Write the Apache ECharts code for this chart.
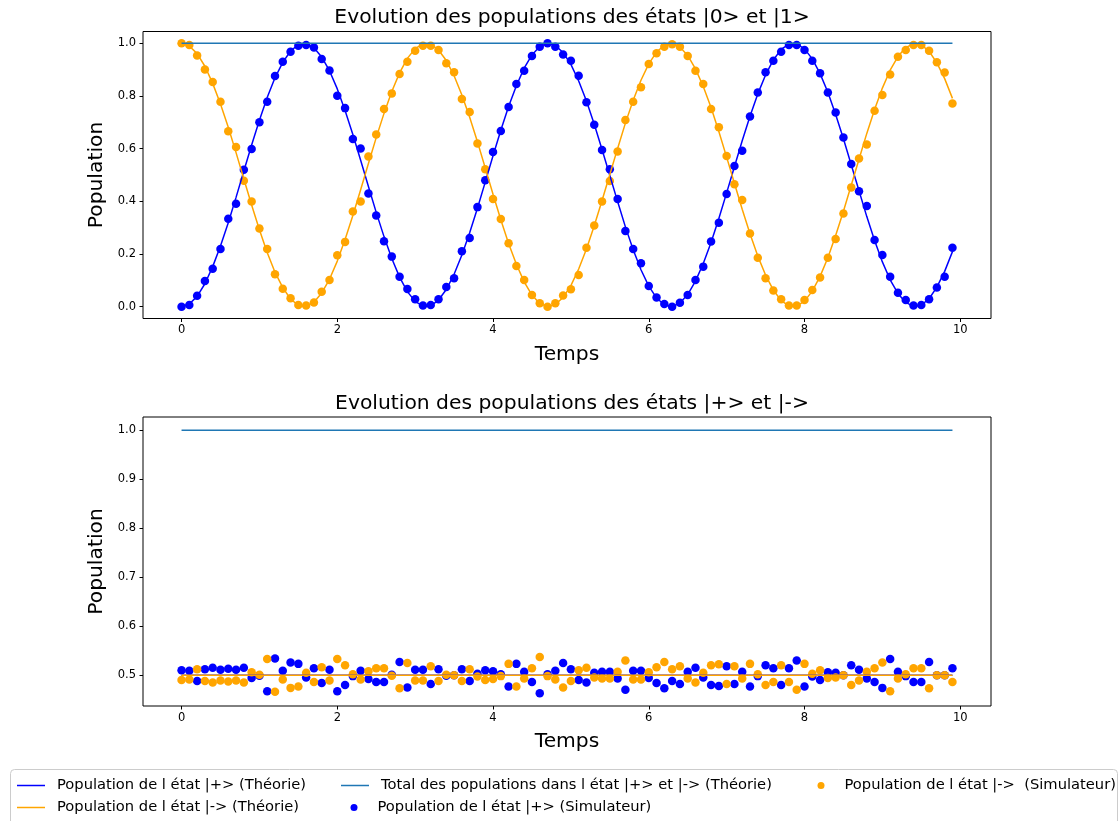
<!DOCTYPE html>
<html>
<head>
<meta charset="utf-8">
<title>Evolution des populations</title>
<script src="https://cdn.jsdelivr.net/npm/echarts@6.0.0/dist/echarts.min.js"></script>
<style>
  html, body { margin: 0; padding: 0; background: #fff; }
  #chart { width: 1120px; height: 821px; }
</style>
</head>
<body>
<div id="chart"></div>
<script>
// temps (t = 0 .. 9.9)
const times = [
  0.0, 0.1, 0.2, 0.3, 0.4, 0.5, 0.6, 0.7, 0.8, 0.9,
  1.0, 1.1, 1.2, 1.3, 1.4, 1.5, 1.6, 1.7, 1.8, 1.9,
  2.0, 2.1, 2.2, 2.3, 2.4, 2.5, 2.6, 2.7, 2.8, 2.9,
  3.0, 3.1, 3.2, 3.3, 3.4, 3.5, 3.6, 3.7, 3.8, 3.9,
  4.0, 4.1, 4.2, 4.3, 4.4, 4.5, 4.6, 4.7, 4.8, 4.9,
  5.0, 5.1, 5.2, 5.3, 5.4, 5.5, 5.6, 5.7, 5.8, 5.9,
  6.0, 6.1, 6.2, 6.3, 6.4, 6.5, 6.6, 6.7, 6.8, 6.9,
  7.0, 7.1, 7.2, 7.3, 7.4, 7.5, 7.6, 7.7, 7.8, 7.9,
  8.0, 8.1, 8.2, 8.3, 8.4, 8.5, 8.6, 8.7, 8.8, 8.9,
  9.0, 9.1, 9.2, 9.3, 9.4, 9.5, 9.6, 9.7, 9.8, 9.9
]

// haut : etats |0> et |1>, courbes theoriques
const theory1 = [
  0.000, 0.010, 0.039, 0.087, 0.152, 0.230, 0.319, 0.415, 0.515, 0.614,
  0.708, 0.794, 0.869, 0.928, 0.971, 0.995, 0.999, 0.983, 0.948, 0.896,
  0.827, 0.745, 0.654, 0.556, 0.456, 0.358, 0.266, 0.183, 0.112, 0.057,
  0.020, 0.002, 0.003, 0.025, 0.065, 0.123, 0.196, 0.281, 0.374, 0.473,
  0.573, 0.670, 0.760, 0.839, 0.906, 0.956, 0.988, 1.000, 0.992, 0.965,
  0.920, 0.857, 0.781, 0.693, 0.597, 0.498, 0.399, 0.303, 0.216, 0.140,
  0.078, 0.033, 0.007, 0.000, 0.014, 0.046, 0.097, 0.164, 0.244, 0.335,
  0.432, 0.531, 0.630, 0.723, 0.808, 0.880, 0.937, 0.977, 0.997, 0.998,
  0.979, 0.941, 0.885, 0.814, 0.730, 0.638, 0.539, 0.440, 0.342, 0.251,
  0.170, 0.102, 0.050, 0.016, 0.001, 0.006, 0.030, 0.074, 0.134, 0.209
]
const theory0 = [
  1.000, 0.990, 0.961, 0.913, 0.848, 0.770, 0.681, 0.585, 0.485, 0.386,
  0.292, 0.206, 0.131, 0.072, 0.029, 0.005, 0.001, 0.017, 0.052, 0.104,
  0.173, 0.255, 0.346, 0.444, 0.544, 0.642, 0.734, 0.817, 0.888, 0.943,
  0.980, 0.998, 0.997, 0.975, 0.935, 0.877, 0.804, 0.719, 0.626, 0.527,
  0.427, 0.330, 0.240, 0.161, 0.094, 0.044, 0.012, 0.000, 0.008, 0.035,
  0.080, 0.143, 0.219, 0.307, 0.403, 0.502, 0.601, 0.697, 0.784, 0.860,
  0.922, 0.967, 0.993, 1.000, 0.986, 0.954, 0.903, 0.836, 0.756, 0.665,
  0.568, 0.469, 0.370, 0.277, 0.192, 0.120, 0.063, 0.023, 0.003, 0.002,
  0.021, 0.059, 0.115, 0.186, 0.270, 0.362, 0.461, 0.560, 0.658, 0.749,
  0.830, 0.898, 0.950, 0.984, 0.999, 0.994, 0.970, 0.926, 0.866, 0.791
]

// haut : points du simulateur
const sim1 = [
  0.000, 0.006, 0.041, 0.097, 0.144, 0.219, 0.334, 0.391, 0.520, 0.599,
  0.700, 0.778, 0.876, 0.930, 0.968, 0.991, 0.994, 0.984, 0.941, 0.897,
  0.801, 0.754, 0.637, 0.601, 0.430, 0.346, 0.248, 0.190, 0.114, 0.067,
  0.028, 0.004, 0.006, 0.028, 0.075, 0.108, 0.210, 0.261, 0.378, 0.480,
  0.587, 0.667, 0.758, 0.846, 0.896, 0.952, 0.987, 1.000, 0.987, 0.958,
  0.934, 0.877, 0.776, 0.691, 0.595, 0.522, 0.409, 0.287, 0.219, 0.165,
  0.078, 0.035, 0.010, 0.000, 0.015, 0.044, 0.101, 0.152, 0.247, 0.319,
  0.428, 0.534, 0.592, 0.722, 0.813, 0.890, 0.934, 0.968, 0.994, 0.994,
  0.975, 0.934, 0.886, 0.813, 0.737, 0.642, 0.542, 0.438, 0.382, 0.253,
  0.196, 0.114, 0.053, 0.025, 0.004, 0.006, 0.028, 0.073, 0.114, 0.224
]
const sim0 = [
  1.000, 0.994, 0.954, 0.901, 0.853, 0.778, 0.666, 0.606, 0.478, 0.399,
  0.297, 0.219, 0.123, 0.068, 0.032, 0.006, 0.004, 0.016, 0.057, 0.101,
  0.195, 0.246, 0.361, 0.399, 0.570, 0.654, 0.751, 0.810, 0.884, 0.930,
  0.972, 0.991, 0.991, 0.975, 0.924, 0.890, 0.789, 0.739, 0.620, 0.522,
  0.409, 0.333, 0.241, 0.154, 0.101, 0.044, 0.013, 0.000, 0.013, 0.042,
  0.066, 0.120, 0.224, 0.308, 0.399, 0.477, 0.589, 0.709, 0.778, 0.833,
  0.922, 0.962, 0.987, 0.997, 0.987, 0.952, 0.896, 0.846, 0.751, 0.681,
  0.572, 0.465, 0.405, 0.278, 0.186, 0.108, 0.061, 0.028, 0.004, 0.004,
  0.025, 0.063, 0.111, 0.186, 0.257, 0.354, 0.453, 0.563, 0.616, 0.744,
  0.804, 0.882, 0.949, 0.975, 0.994, 0.994, 0.972, 0.928, 0.889, 0.772
]

// bas : etats |+> et |->
const simPlus = [
  0.510, 0.509, 0.488, 0.512, 0.515, 0.511, 0.513, 0.511, 0.515, 0.494,
  0.499, 0.467, 0.534, 0.509, 0.526, 0.523, 0.495, 0.514, 0.484, 0.511,
  0.467, 0.480, 0.498, 0.509, 0.492, 0.486, 0.486, 0.501, 0.527, 0.475,
  0.511, 0.511, 0.482, 0.512, 0.499, 0.500, 0.512, 0.488, 0.503, 0.510,
  0.508, 0.502, 0.477, 0.523, 0.507, 0.486, 0.463, 0.502, 0.509, 0.525,
  0.512, 0.490, 0.485, 0.505, 0.507, 0.507, 0.493, 0.470, 0.509, 0.509,
  0.494, 0.484, 0.473, 0.488, 0.482, 0.507, 0.515, 0.495, 0.480, 0.478,
  0.518, 0.482, 0.507, 0.477, 0.498, 0.520, 0.514, 0.480, 0.514, 0.530,
  0.477, 0.497, 0.490, 0.506, 0.505, 0.500, 0.520, 0.511, 0.493, 0.486,
  0.474, 0.533, 0.507, 0.498, 0.486, 0.486, 0.527, 0.500, 0.500, 0.514
]
const simMinus = [
  0.490, 0.491, 0.512, 0.488, 0.485, 0.489, 0.487, 0.489, 0.485, 0.506,
  0.501, 0.533, 0.466, 0.491, 0.474, 0.477, 0.505, 0.486, 0.516, 0.489,
  0.533, 0.520, 0.502, 0.491, 0.508, 0.514, 0.514, 0.499, 0.473, 0.525,
  0.489, 0.489, 0.518, 0.488, 0.501, 0.500, 0.488, 0.512, 0.497, 0.490,
  0.492, 0.498, 0.523, 0.477, 0.493, 0.514, 0.537, 0.498, 0.491, 0.475,
  0.488, 0.510, 0.515, 0.495, 0.493, 0.493, 0.507, 0.530, 0.491, 0.491,
  0.506, 0.516, 0.527, 0.512, 0.518, 0.493, 0.485, 0.505, 0.520, 0.522,
  0.482, 0.518, 0.493, 0.523, 0.502, 0.480, 0.486, 0.520, 0.486, 0.470,
  0.523, 0.503, 0.510, 0.494, 0.495, 0.500, 0.480, 0.489, 0.507, 0.514,
  0.526, 0.467, 0.493, 0.502, 0.514, 0.514, 0.473, 0.500, 0.500, 0.486
]

// droites constantes (debut / fin)
const lineEnds = [0, 9.9]
const totalTheory = [1.0, 1.0]
const plusTheory = [0.5, 0.5]
const minusTheory = [0.5, 0.5]

// graduations
const xTicks = [0, 2, 4, 6, 8, 10]
const yTicksTop = [0.0, 0.2, 0.4, 0.6, 0.8, 1.0]
const yTicksBottom = [0.5, 0.6, 0.7, 0.8, 0.9, 1.0]

const NAME_PLUS_TH = 'Population de l état |+> (Théorie)'
const NAME_MINUS_TH = 'Population de l état |-> (Théorie)'
const NAME_TOTAL_TH = 'Total des populations dans l état |+> et |-> (Théorie)'
const NAME_PLUS_SIM = 'Population de l état |+> (Simulateur)'
const NAME_MINUS_SIM = 'Population de l état |->  (Simulateur)'

const FONT = 'DejaVu Sans'
const BLUE = '#0000ff'
const ORANGE = '#ffa500'
const TAB_BLUE = '#1f77b4'

const pairs = (xs, ys) => xs.map((x, i) => [x, ys[i]])

const chartInstance = echarts.init(document.getElementById('chart'))

const xAxisCfg = (gridIndex) => ({
  type: 'value',
  gridIndex,
  min: -0.495,
  max: 10.395,
  name: 'Temps',
  nameLocation: 'middle',
  nameGap: 26,
  nameTextStyle: { fontFamily: FONT, fontSize: 20.3, color: '#000' },
  axisLine: { show: false, onZero: false },
  splitLine: { show: false },
  axisTick: { show: true, length: 3.5, customValues: xTicks, lineStyle: { color: '#000' } },
  axisLabel: { customValues: xTicks, margin: 6, color: '#000', fontFamily: FONT, fontSize: 11.5 }
})

const yAxisCfg = (gridIndex, min, max, ticks) => ({
  type: 'value',
  gridIndex,
  min,
  max,
  name: 'Population',
  nameLocation: 'middle',
  nameGap: 29,
  nameRotate: 90,
  nameTextStyle: { fontFamily: FONT, fontSize: 20.3, color: '#000' },
  axisLine: { show: false, onZero: false },
  splitLine: { show: false },
  axisTick: { show: true, length: 3.5, customValues: ticks, lineStyle: { color: '#000' } },
  axisLabel: {
    customValues: ticks,
    margin: 7,
    color: '#000',
    fontFamily: FONT,
    fontSize: 11.5,
    formatter: (v) => v.toFixed(1)
  }
})

const lineSeries = (name, axis, xs, ys, color) => ({
  name,
  type: 'line',
  xAxisIndex: axis,
  yAxisIndex: axis,
  data: pairs(xs, ys),
  symbol: 'none',
  lineStyle: { color, width: 1.5 },
  itemStyle: { color },
  silent: true
})

const scatterSeries = (name, axis, ys, color) => ({
  name,
  type: 'scatter',
  xAxisIndex: axis,
  yAxisIndex: axis,
  data: pairs(times, ys),
  symbolSize: 8.5,
  itemStyle: { color, opacity: 1 }
})

const legendText = { fontFamily: FONT, fontSize: 14.7, color: '#000' }

const lineLegend = (name, left, top) => ({
  data: [{ name, icon: 'rect' }],
  left,
  top,
  padding: 0,
  itemWidth: 28,
  itemHeight: 1.5,
  selectedMode: false,
  textStyle: { ...legendText, padding: [0, 0, 0, 7] }
})

const dotLegend = (name, left, top) => ({
  data: [{ name, icon: 'circle' }],
  left,
  top,
  padding: 0,
  itemWidth: 7,
  itemHeight: 7,
  selectedMode: false,
  textStyle: { ...legendText, padding: [0, 0, 0, 15] }
})

const titleStyle = { fontFamily: FONT, fontSize: 20.3, fontWeight: 'normal', color: '#000' }

const option = {
  animation: false,
  backgroundColor: '#fff',
  title: [
    { text: 'Evolution des populations des états |0> et |1>', left: 567, top: 3, textAlign: 'center', textStyle: titleStyle },
    { text: 'Evolution des populations des états |+> et |->', left: 567, top: 389, textAlign: 'center', textStyle: titleStyle }
  ],
  grid: [
    { left: 143, width: 848, top: 31.5, height: 287, show: true, borderColor: '#000', borderWidth: 1, backgroundColor: '#fff', outerBoundsMode: 'none' },
    { left: 143, width: 848, top: 417, height: 289, show: true, borderColor: '#000', borderWidth: 1, backgroundColor: '#fff', outerBoundsMode: 'none' }
  ],
  xAxis: [xAxisCfg(0), xAxisCfg(1)],
  yAxis: [
    yAxisCfg(0, -0.045, 1.045, yTicksTop),
    yAxisCfg(1, 0.437, 1.027, yTicksBottom)
  ],
  graphic: [
    {
      type: 'rect',
      z: 0,
      shape: { x: 10.5, y: 769.5, width: 1107, height: 70, r: 4 },
      style: { fill: '#fff', stroke: '#cccccc', lineWidth: 1 }
    }
  ],
  legend: [
    lineLegend(NAME_PLUS_TH, 17, 778),
    lineLegend(NAME_MINUS_TH, 17, 800),
    lineLegend(NAME_TOTAL_TH, 341, 778),
    dotLegend(NAME_PLUS_SIM, 350.5, 800),
    dotLegend(NAME_MINUS_SIM, 817.5, 778)
  ],
  series: [
    // graphe du haut
    lineSeries('P1 theorie', 0, times, theory1, BLUE),
    lineSeries('P0 theorie', 0, times, theory0, ORANGE),
    lineSeries('Total haut', 0, lineEnds, totalTheory, TAB_BLUE),
    scatterSeries('P1 simulateur', 0, sim1, BLUE),
    scatterSeries('P0 simulateur', 0, sim0, ORANGE),
    // graphe du bas
    lineSeries(NAME_PLUS_TH, 1, lineEnds, plusTheory, BLUE),
    lineSeries(NAME_MINUS_TH, 1, lineEnds, minusTheory, ORANGE),
    lineSeries(NAME_TOTAL_TH, 1, lineEnds, totalTheory, TAB_BLUE),
    scatterSeries(NAME_PLUS_SIM, 1, simPlus, BLUE),
    scatterSeries(NAME_MINUS_SIM, 1, simMinus, ORANGE)
  ]
}

chartInstance.setOption(option)
window.addEventListener('resize', () => chartInstance.resize())
</script>
</body>
</html>
